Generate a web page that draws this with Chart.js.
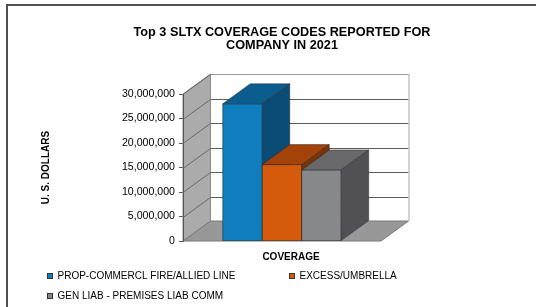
<!DOCTYPE html>
<html><head><meta charset="utf-8">
<script src="https://cdn.jsdelivr.net/npm/chart.js@4/dist/chart.umd.min.js"></script>
<style>html,body{margin:0;padding:0;background:#fff;overflow:hidden}</style>
</head><body>
<canvas id="c" width="536" height="307"></canvas>
<script>
// ---- data ----
const categories = ['COVERAGE'];
const seriesNames = ['PROP-COMMERCL FIRE/ALLIED LINE', 'EXCESS/UMBRELLA', 'GEN LIAB - PREMISES LIAB COMM'];
const propCommerclValues = [28000000];
const excessUmbrellaValues = [15600000];
const genLiabValues = [14500000];
const yTickValues = [0, 5000000, 10000000, 15000000, 20000000, 25000000, 30000000];
const titleLines = ['Top 3 SLTX COVERAGE CODES REPORTED FOR', 'COMPANY IN 2021'];
const yAxisTitle = 'U. S. DOLLARS';

// ---- styles ----
const FONT = "'Liberation Sans', Arial, sans-serif";
const frontColors = ['#0F7DBE', '#D65A0C', '#87888B'];
const topColors = ['#0B5D8F', '#A3430A', '#69696C'];
const sideColors = ['#0A4C75', '#7A3208', '#515155'];
const DX = 27.5, DY = -20;

function poly(ctx, pts, fill, stroke) {
  ctx.beginPath();
  ctx.moveTo(pts[0][0], pts[0][1]);
  for (let i = 1; i < pts.length; i++) ctx.lineTo(pts[i][0], pts[i][1]);
  ctx.closePath();
  if (fill) { ctx.fillStyle = fill; ctx.fill(); }
  if (stroke) { ctx.strokeStyle = stroke; ctx.lineWidth = 1; ctx.stroke(); }
}
function line(ctx, x1, y1, x2, y2, c, w) {
  ctx.beginPath(); ctx.moveTo(x1, y1); ctx.lineTo(x2, y2);
  ctx.strokeStyle = c; ctx.lineWidth = w || 1; ctx.stroke();
}

const threeD = {
  id: 'threeD',
  beforeDraw(chart) {
    const ctx = chart.ctx;
    ctx.save();
    ctx.fillStyle = '#fff';
    ctx.fillRect(0, 0, chart.width, chart.height);
    ctx.fillStyle = '#505050';
    ctx.fillRect(6, 4, chart.width - 6, 2);
    ctx.fillRect(6, 4, 2, chart.height - 4);
    ctx.restore();
  },
  beforeDatasetsDraw(chart) {
    const ctx = chart.ctx;
    const { left: L, right: R } = chart.chartArea;
    const y = chart.scales.y;
    const B = y.getPixelForValue(0), T = y.getPixelForValue(y.max);
    ctx.save();
    // back wall
    ctx.fillStyle = '#fff';
    ctx.fillRect(L + DX, T + DY, R - L, B - T);
    // side wall
    poly(ctx, [[L, B], [L, T], [L + DX, T + DY], [L + DX, B + DY]], '#ABABAB', '#8a8a8a');
    // floor
    poly(ctx, [[L, B], [R, B], [R + DX, B + DY], [L + DX, B + DY]], '#989898', '#7a7a7a');
    // gridlines on back and side walls
    yTickValues.forEach(v => {
      const py = Math.round(y.getPixelForValue(v)) + 0.5;
      if (v > 0) {
        line(ctx, L + DX, py + DY, R + DX, py + DY, v === y.max ? '#9a9a9a' : '#5c5c5c');
        line(ctx, L, py, L + DX, py + DY, '#6a6a6a');
      }
    });
    // back wall right edge
    line(ctx, R + DX + 0.5, T + DY, R + DX + 0.5, B + DY, '#a8a8a8');
    // front axis edge
    line(ctx, L + 0.5, T, L + 0.5, B, '#555');
    ctx.restore();
  },
  afterDatasetsDraw(chart) {
    const ctx = chart.ctx;
    ctx.save();
    chart.data.datasets.forEach((ds, i) => {
      const meta = chart.getDatasetMeta(i);
      meta.data.forEach(el => {
        const x1 = el.x - el.width / 2, x2 = el.x + el.width / 2;
        const yt = el.y, yb = el.base;
        const edge = 'rgba(30,30,30,0.45)';
        poly(ctx, [[x1, yb], [x1, yt], [x2, yt], [x2, yb]], frontColors[i], edge);
        poly(ctx, [[x1, yt], [x2, yt], [x2 + DX, yt + DY], [x1 + DX, yt + DY]], topColors[i], edge);
        poly(ctx, [[x2, yt], [x2 + DX, yt + DY], [x2 + DX, yb + DY], [x2, yb]], sideColors[i], edge);
      });
    });
    ctx.restore();
  },
  afterDraw(chart) {
    const ctx = chart.ctx;
    const ca = chart.chartArea;
    const cx = (ca.left + ca.right) / 2;
    ctx.save();
    ctx.fillStyle = '#000';
    ctx.textAlign = 'center';
    ctx.textBaseline = 'middle';
    ctx.font = 'bold 12.7px ' + FONT;
    ctx.fillText(titleLines[0], cx, 32);
    ctx.fillText(titleLines[1], cx, 45.5);
    // category label
    ctx.font = 'bold 10px ' + FONT;
    const xs = chart.scales.x;
    categories.forEach((c, k) => ctx.fillText(c, xs.getPixelForValue(k) + 9, 257));
    // legend
    ctx.font = '10px ' + FONT;
    ctx.textAlign = 'left';
    const pos = [[47, 276], [289, 276], [47, 296]];
    chart.data.datasets.forEach((ds, i) => {
      const [mx, my] = pos[i];
      ctx.fillStyle = ds.backgroundColor;
      ctx.fillRect(mx, my - 3, 6, 6);
      ctx.strokeStyle = '#333';
      ctx.lineWidth = 1;
      ctx.strokeRect(mx + 0.5, my - 2.5, 5, 5);
      ctx.fillStyle = '#000';
      ctx.fillText(ds.label, mx + 10.5, my + 0.5);
    });
    ctx.restore();
  }
};

const seriesValues = [propCommerclValues, excessUmbrellaValues, genLiabValues];

new Chart(document.getElementById('c'), {
  type: 'bar',
  data: {
    labels: categories,
    datasets: seriesNames.map((name, i) => ({
      label: name,
      data: seriesValues[i],
      backgroundColor: frontColors[i],
      borderWidth: 0,
      categoryPercentage: 0.598,
      barPercentage: 1
    }))
  },
  options: {
    responsive: false,
    devicePixelRatio: 1,
    animation: false,
    layout: { padding: { left: 0, right: 155, top: 94, bottom: 66 } },
    plugins: { legend: { display: false }, title: { display: false }, tooltip: { enabled: false } },
    scales: {
      x: { display: false },
      y: {
        min: 0, max: 30000000,
        afterFit(s) { s.width = 183; },
        afterBuildTicks(s) { s.ticks = yTickValues.map(v => ({ value: v })); },
        ticks: {
          color: '#000', padding: 4,
          font: { family: FONT, size: 10.6 },
          callback: v => Number(v).toLocaleString('en-US')
        },
        grid: { drawOnChartArea: false, drawTicks: true, tickLength: 4, color: '#555' },
        border: { display: true, color: '#555' },
        title: {
          display: true, text: yAxisTitle, color: '#000',
          font: { family: FONT, size: 10, weight: 'bold' },
          padding: { top: 40.7, bottom: 0 }
        }
      }
    }
  },
  plugins: [threeD]
});
</script>
</body></html>
